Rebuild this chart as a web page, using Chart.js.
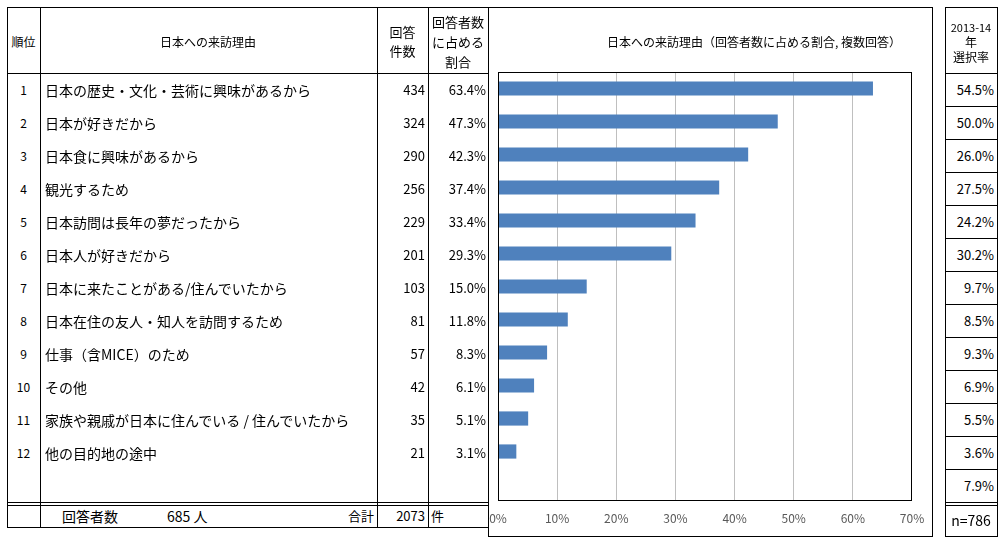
<!DOCTYPE html>
<html lang="ja">
<head>
<meta charset="utf-8">
<script src="https://cdn.jsdelivr.net/npm/chart.js@4.4.1/dist/chart.umd.min.js"></script>
<style>
  body { margin: 0; background: #fff; font-family: "Noto Sans CJK JP", sans-serif; color: #000; }
  #page { position: relative; width: 998px; height: 537px; overflow: hidden; }
  .ln { position: absolute; background: #000; }
  .t { position: absolute; white-space: nowrap; }
</style>
</head>
<body>
<div id="page">
  <div id="chartBox" style="position:absolute;left:489px;top:8px;width:443px;height:528px;">
    <canvas id="reasonChart"></canvas>
  </div>
</div>
<script>
// 日本への来訪理由
const ranks = [1, 2, 3, 4, 5, 6, 7, 8, 9, 10, 11, 12];
const reasons = [
  '日本の歴史・文化・芸術に興味があるから',
  '日本が好きだから',
  '日本食に興味があるから',
  '観光するため',
  '日本訪問は長年の夢だったから',
  '日本人が好きだから',
  '日本に来たことがある/住んでいたから',
  '日本在住の友人・知人を訪問するため',
  '仕事（含MICE）のため',
  'その他',
  '家族や親戚が日本に住んでいる / 住んでいたから',
  '他の目的地の途中'
];
const counts = [434, 324, 290, 256, 229, 201, 103, 81, 57, 42, 35, 21];
const shares = [63.4, 47.3, 42.3, 37.4, 33.4, 29.3, 15.0, 11.8, 8.3, 6.1, 5.1, 3.1];
const prevRates = [54.5, 50.0, 26.0, 27.5, 24.2, 30.2, 9.7, 8.5, 9.3, 6.9, 5.5, 3.6, 7.9];
const xTicks = [0, 10, 20, 30, 40, 50, 60, 70];
const respondents = 685;
const totalCount = 2073;
const prevN = 786;

const page = document.getElementById('page');
const FONT = '"Noto Sans CJK JP", sans-serif';
const ROW_TOP = 73, ROW_H = 33;

function line(x, y, w, h) {
  const d = document.createElement('div');
  d.className = 'ln';
  d.style.cssText = `left:${x}px;top:${y}px;width:${w}px;height:${h}px;`;
  page.appendChild(d);
}
const hline = (x1, x2, y) => line(x1, y, x2 - x1 + 1, 1);
const vline = (x, y1, y2) => line(x, y1, 1, y2 - y1 + 1);

// align: 'l' = x is left edge, 'r' = x is right edge, 'c' = x is centre; y is text centre
function text(str, x, y, size, align) {
  const d = document.createElement('div');
  d.className = 't';
  d.textContent = str;
  const h = 20;
  let css = `top:${y - h / 2}px;height:${h}px;line-height:${h}px;font-size:${size}px;`;
  if (align === 'r') css += `right:${998 - x}px;text-align:right;`;
  else if (align === 'c') css += `left:${x - 100}px;width:200px;text-align:center;`;
  else css += `left:${x}px;`;
  d.style.cssText = css;
  page.appendChild(d);
}

// --- 左の表 ---
[7, 73, 502, 505, 527].forEach(y => hline(7, 488, y));
[7, 40, 377, 428].forEach(x => vline(x, 7, 527));

// --- グラフ枠 ---
hline(488, 932, 7);
hline(488, 932, 536);
vline(488, 7, 536);
vline(932, 7, 536);

// --- 右の表 ---
hline(945, 997, 7);
for (let k = 0; k <= 13; k++) hline(945, 997, ROW_TOP + ROW_H * k);
hline(945, 997, 505);
hline(945, 997, 536);
vline(945, 7, 536);
vline(997, 7, 536);

// 見出し
text('順位', 23.5, 42, 12, 'c');
text('日本への来訪理由', 208, 42, 12, 'c');
text('回答', 402.5, 32, 13, 'c');
text('件数', 402.5, 51, 13, 'c');
text('回答者数', 458, 22, 13, 'c');
text('に占める', 458, 42, 13, 'c');
text('割合', 458, 62, 13, 'c');
text('日本への来訪理由（回答者数に占める割合, 複数回答）', 707, 42, 12, 'c');
text('2013-14', 971, 27, 11, 'c');
text('年', 971, 42, 12, 'c');
text('選択率', 971, 57, 12, 'c');

// 各行
ranks.forEach((r, i) => {
  const y = ROW_TOP + ROW_H * (i + 0.5);
  text(String(r), 23.5, y, 12, 'c');
  text(reasons[i], 45, y, 14, 'l');
  text(String(counts[i]), 425, y, 13, 'r');
  text(shares[i].toFixed(1) + '%', 486, y, 13, 'r');
});
prevRates.forEach((v, i) => {
  text(v.toFixed(1) + '%', 994, ROW_TOP + ROW_H * (i + 0.5), 13, 'r');
});

// 合計行
text('回答者数', 62, 516, 14, 'l');
text(respondents + ' 人', 167, 516, 14, 'l');
text('合計', 374, 516, 13, 'r');
text(String(totalCount), 425, 516, 13, 'r');
text('件', 431, 516, 13, 'l');
text('n=' + prevN, 971, 520, 14, 'c');

// プロット領域の枠線
const plotFrame = {
  id: 'plotFrame',
  afterDatasetsDraw(chart) {
    const { ctx, chartArea: a } = chart;
    ctx.save();
    ctx.strokeStyle = '#000';
    ctx.lineWidth = 1;
    ctx.strokeRect(Math.round(a.left) + 0.5, Math.round(a.top) + 0.5,
      Math.round(a.right - a.left) - 1, Math.round(a.bottom - a.top) - 1);
    ctx.restore();
  }
};

new Chart(document.getElementById('reasonChart'), {
  type: 'bar',
  data: {
    labels: reasons.concat(['']),
    datasets: [{
      data: shares.concat([null]),
      backgroundColor: '#4f81bd',
      barPercentage: 0.43,
      categoryPercentage: 1
    }]
  },
  options: {
    indexAxis: 'y',
    responsive: true,
    maintainAspectRatio: false,
    animation: false,
    layout: { padding: { left: 9, right: 20, top: 64, bottom: 0 } },
    plugins: { legend: { display: false }, tooltip: { enabled: false } },
    scales: {
      x: {
        min: 0,
        max: 70,
        afterBuildTicks: s => { s.ticks = xTicks.map(v => ({ value: v })); },
        afterFit: s => { s.height = 35; },
        ticks: {
          callback: v => v + '%',
          color: '#595959',
          font: { size: 12, family: FONT },
          padding: 0,
          maxRotation: 0
        },
        grid: {
          drawTicks: true,
          tickLength: 10,
          tickColor: 'rgba(0,0,0,0)',
          color: c => (c.tick && (c.tick.value === 0 || c.tick.value === 70)) ? 'rgba(0,0,0,0)' : '#bfbfbf'
        },
        border: { display: false }
      },
      y: { display: false }
    }
  },
  plugins: [plotFrame]
});
</script>
</body>
</html>
